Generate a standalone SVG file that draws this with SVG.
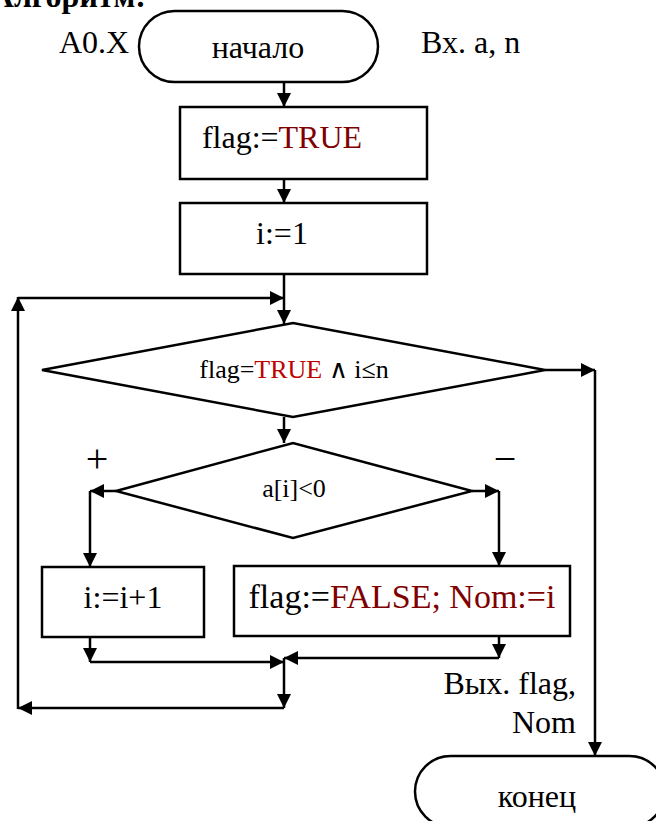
<svg xmlns="http://www.w3.org/2000/svg" width="656" height="821" viewBox="0 0 656 821">
  <style>
    .shape { fill: #ffffff; stroke: #000000; stroke-width: 2.5; }
    .line { fill: none; stroke: #000000; stroke-width: 2.5; }
    .arrow { marker-end: url(#arrowhead); }
    .txt { font-family: "Liberation Serif", "Times New Roman", serif; font-size: 32px; fill: #000000; }
    .small { font-size: 26px; }
    .mid { text-anchor: middle; }
    .end { text-anchor: end; }
    .kw { fill: #800000; }
    .kw2 { fill: #c00000; }
    .title { font-weight: bold; }
    .sign { font-size: 40px; }
  </style>
  <defs>
    <marker id="arrowhead" markerUnits="userSpaceOnUse" markerWidth="14" markerHeight="14" refX="14" refY="7" orient="auto">
      <path d="M0,0 L14,7 L0,14 z" fill="#000000"/>
    </marker>
  </defs>

  <rect width="656" height="821" fill="#ffffff"/>

  <!-- heading, cut by the top edge -->
  <text class="txt title end" x="146" y="7">Алгоритм:</text>

  <!-- labels -->
  <text class="txt" x="59" y="53">A0.X</text>
  <text class="txt" x="421" y="53">Вх. a, n</text>
  <text class="txt end" x="576" y="694">Вых. flag,</text>
  <text class="txt end" x="576" y="733">Nom</text>
  <text class="txt sign mid" x="97" y="472">+</text>
  <text class="txt sign mid" x="505" y="472">−</text>

  <!-- connectors -->
  <g id="connectors">
    <line class="line arrow" x1="284" y1="82" x2="284" y2="107"/>
    <line class="line arrow" x1="284" y1="179" x2="284" y2="203"/>
    <line class="line" x1="284" y1="274" x2="284" y2="298"/>
    <line class="line arrow" x1="284" y1="298" x2="284" y2="324"/>
    <line class="line arrow" x1="284" y1="708" x2="18" y2="708"/>
    <line class="line arrow" x1="18" y1="709" x2="18" y2="297"/>
    <line class="line arrow" x1="18" y1="298" x2="284" y2="298"/>
    <line class="line arrow" x1="545" y1="370" x2="595" y2="370"/>
    <line class="line arrow" x1="595" y1="370" x2="595" y2="756"/>
    <line class="line arrow" x1="284" y1="417" x2="284" y2="443"/>
    <line class="line arrow" x1="116" y1="491" x2="90" y2="491"/>
    <line class="line arrow" x1="90" y1="491" x2="90" y2="567"/>
    <line class="line arrow" x1="472" y1="491" x2="499" y2="491"/>
    <line class="line arrow" x1="499" y1="491" x2="499" y2="566"/>
    <line class="line arrow" x1="90" y1="637" x2="90" y2="662"/>
    <line class="line arrow" x1="90" y1="662" x2="284" y2="662"/>
    <line class="line arrow" x1="499" y1="636" x2="499" y2="658"/>
    <line class="line arrow" x1="499" y1="658" x2="284" y2="658"/>
    <line class="line arrow" x1="284" y1="658" x2="284" y2="708"/>
  </g>

  <g id="start">
    <rect class="shape" x="139" y="11" width="239" height="71" rx="35.5" ry="35.5"/>
    <text class="txt mid" x="258" y="58">начало</text>
  </g>

  <g id="init-flag">
    <rect class="shape" x="180" y="107" width="247" height="72"/>
    <text class="txt mid" x="282" y="148">flag:=<tspan class="kw">TRUE</tspan></text>
  </g>

  <g id="init-i">
    <rect class="shape" x="180" y="203" width="247" height="71"/>
    <text class="txt mid" x="282" y="244">i:=1</text>
  </g>

  <g id="loop-condition">
    <polygon class="shape" points="42,370 293,323 545,370 293,417"/>
    <text class="txt small mid" x="294" y="378">flag=<tspan class="kw2">TRUE</tspan> ∧ i≤n</text>
  </g>

  <g id="sign-check">
    <polygon class="shape" points="116,491 293,443 472,491 293,538"/>
    <text class="txt small mid" x="294" y="497">a[i]&lt;0</text>
  </g>

  <g id="next-i">
    <rect class="shape" x="42" y="567" width="162" height="70"/>
    <text class="txt mid" x="123" y="608">i:=i+1</text>
  </g>

  <g id="found">
    <rect class="shape" x="234" y="566" width="336" height="70"/>
    <text class="txt mid" x="402" y="608" style="font-size:34px">flag:=<tspan class="kw">FALSE; Nom:=i</tspan></text>
  </g>

  <g id="end">
    <rect class="shape" x="415" y="756" width="250" height="71" rx="35.5" ry="35.5"/>
    <text class="txt mid" x="537" y="807">конец</text>
  </g>
</svg>
